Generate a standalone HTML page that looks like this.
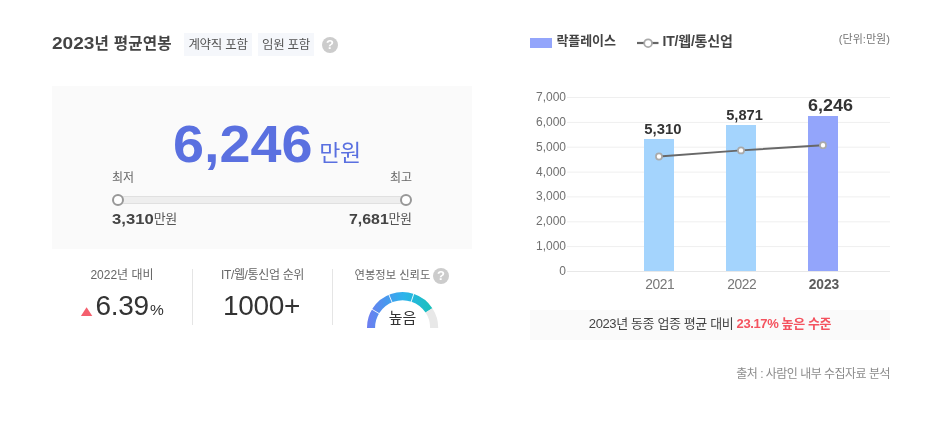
<!DOCTYPE html>
<html lang="ko">
<head>
<meta charset="utf-8">
<title>2023년 평균연봉</title>
<style>
*{margin:0;padding:0;box-sizing:border-box}
html,body{width:948px;height:427px;background:#fff;overflow:hidden}
body{position:relative;font-family:"Liberation Sans","Noto Sans CJK KR",sans-serif;color:#444;}
.abs{position:absolute;white-space:nowrap;line-height:1}
.title{left:52px;top:34.5px;font-size:15.6px;font-weight:bold;color:#444;letter-spacing:0.2px;line-height:17px}
.title span{display:inline-block;font-size:16px;letter-spacing:0;transform:scaleX(1.19);transform-origin:0 50%;margin-right:7px}
.badge{top:33px;height:23px;background:#f5f7fb;font-size:12.5px;color:#555;line-height:24.4px;text-align:center;letter-spacing:-0.3px}
.q{width:16px;height:16px;border-radius:50%;background:#ccc;color:#fff;font-size:13px;font-weight:bold;text-align:center;line-height:16.5px}
.box{left:52px;top:86px;width:420px;height:163px;background:#fafafa}
.big{left:173px;top:117.5px;font-size:52px;font-weight:bold;color:#5a70e0;letter-spacing:0;transform:scaleX(1.072);transform-origin:0 0}
.bigunit{left:319.2px;top:141.8px;font-size:23px;color:#5a70e0;letter-spacing:-0.3px}
.lbl{font-size:12px;color:#666}
.track{left:117px;top:196px;width:289px;height:8px;background:#eee;border-top:1px solid #e0e0e0;border-bottom:1px solid #e0e0e0}
.knob{width:12px;height:12px;border-radius:50%;border:2px solid #989898;background:#fff}
.val{font-size:15.5px;font-weight:bold;color:#444;letter-spacing:0}
.val b{display:inline-block}
.val span{font-size:13px;font-weight:normal;color:#555;letter-spacing:-0.5px;position:relative;top:-0.7px;margin-left:-0.5px}
.sub{font-size:12px;color:#666;text-align:center}
.div{width:1px;background:#e5e5e5;top:269px;height:56px}
.num{font-size:28px;letter-spacing:-0.3px;color:#333;text-align:center}
.banner{left:530px;top:310px;width:360px;height:30px;background:#fafafa;font-size:13px;color:#444;text-align:center;line-height:27.6px;letter-spacing:-0.38px}
.banner b{color:#f4535f}
.src{right:58px;top:368px;font-size:12px;color:#8c8c8c;letter-spacing:-0.52px}
</style>
</head>
<body>
<div class="abs title"><span>2023</span>년 평균연봉</div>
<div class="abs badge" style="left:184px;width:68px">계약직 포함</div>
<div class="abs badge" style="left:258px;width:56px">임원 포함</div>
<div class="abs q" style="left:322px;top:37px">?</div>

<div class="abs box"></div>
<div class="abs big">6,246</div>
<div class="abs bigunit">만원</div>
<div class="abs lbl" style="left:112px;top:172px">최저</div>
<div class="abs lbl" style="right:536px;top:172px">최고</div>
<div class="abs track"></div>
<div class="abs knob" style="left:112px;top:194px"></div>
<div class="abs knob" style="left:400px;top:194px"></div>
<div class="abs val" style="left:112px;top:210.7px"><b style="transform:scaleX(1.075);transform-origin:0 50%;margin-right:3.4px">3,310</b><span>만원</span></div>
<div class="abs val" style="right:536.5px;top:210.7px"><b style="transform:scaleX(1.025);transform-origin:100% 50%;margin-left:1px;margin-right:0.5px">7,681</b><span>만원</span></div>

<div class="abs sub" style="left:52px;width:140px;top:269px">2022년 대비</div>
<svg class="abs" style="left:80px;top:306px" width="14" height="11" viewBox="80 306 14 11"><polygon points="86.6,307.3 92.3,316 80.9,316" fill="#f4606e"/></svg>
<div class="abs num" style="left:95.4px;top:291.5px;font-size:28px;text-align:left">6.39<span style="font-size:15.5px;margin-left:1.2px">%</span></div>
<div class="abs div" style="left:192px"></div>
<div class="abs sub" style="left:193px;width:139px;top:269px;letter-spacing:-0.35px">IT/웹/통신업 순위</div>
<div class="abs num" style="left:192px;width:139px;top:292px">1000+</div>
<div class="abs div" style="left:332px"></div>
<div class="abs sub" style="left:354.5px;top:269.7px;text-align:left;font-size:11.3px">연봉정보 신뢰도</div>
<div class="abs q" style="left:433px;top:268px">?</div>
<svg class="abs" style="left:362px;top:288px" width="82" height="39.7" viewBox="362 288 82 39.7">
<defs><linearGradient id="g" gradientUnits="userSpaceOnUse" x1="367" y1="0" x2="433" y2="0"><stop offset="0" stop-color="#6e7df0"/><stop offset="0.28" stop-color="#4a97ee"/><stop offset="0.55" stop-color="#2db3ec"/><stop offset="0.8" stop-color="#20bbd0"/><stop offset="1" stop-color="#1ac1b8"/></linearGradient></defs>
<path d="M371.17 330.45 A31.55 31.55 0 0 1 428.97 310.38" fill="none" stroke="url(#g)" stroke-width="8.1"/>
<path d="M428.97 310.38 A31.55 31.55 0 0 1 434.03 330.45" fill="none" stroke="#e8e8e8" stroke-width="8.1"/>
<line x1="379.89" y1="314.05" x2="371.31" y2="308.90" stroke="#fff" stroke-width="0.9"/>
<line x1="392.46" y1="303.22" x2="388.63" y2="293.98" stroke="#fff" stroke-width="0.9"/>
<line x1="410.92" y1="302.54" x2="414.06" y2="293.05" stroke="#fff" stroke-width="0.9"/>
</svg>
<div class="abs" style="left:362px;width:81px;top:310px;font-size:15px;color:#333;text-align:center">높음</div>

<div class="abs" style="left:530px;top:38px;width:22px;height:10px;background:#93a5fb"></div>
<div class="abs" style="left:556.5px;top:33.8px;font-size:13px;font-weight:bold;color:#444;letter-spacing:-0.1px">락플레이스</div>
<div class="abs" style="left:662.5px;top:34px;font-size:14px;font-weight:bold;color:#444;letter-spacing:-0.2px">IT/웹/통신업</div>
<div class="abs" style="right:58px;top:34px;font-size:11px;color:#777;letter-spacing:0.05px">(단위:만원)</div>

<!--CHART-->
<svg class="abs" style="left:0;top:0" width="948" height="427" viewBox="0 0 948 427" font-family="'Liberation Sans','Noto Sans CJK KR',sans-serif">
<line x1="567" x2="890" y1="271.5" y2="271.5" stroke="#e8e8e8" stroke-width="1"/>
<text x="566" y="274.9" text-anchor="end" font-size="12" fill="#707070">0</text>
<line x1="567" x2="890" y1="246.6" y2="246.6" stroke="#efefef" stroke-width="1"/>
<text x="566" y="250.0" text-anchor="end" font-size="12" fill="#707070">1,000</text>
<line x1="567" x2="890" y1="221.8" y2="221.8" stroke="#efefef" stroke-width="1"/>
<text x="566" y="225.2" text-anchor="end" font-size="12" fill="#707070">2,000</text>
<line x1="567" x2="890" y1="196.9" y2="196.9" stroke="#efefef" stroke-width="1"/>
<text x="566" y="200.3" text-anchor="end" font-size="12" fill="#707070">3,000</text>
<line x1="567" x2="890" y1="172.1" y2="172.1" stroke="#efefef" stroke-width="1"/>
<text x="566" y="175.5" text-anchor="end" font-size="12" fill="#707070">4,000</text>
<line x1="567" x2="890" y1="147.2" y2="147.2" stroke="#efefef" stroke-width="1"/>
<text x="566" y="150.6" text-anchor="end" font-size="12" fill="#707070">5,000</text>
<line x1="567" x2="890" y1="122.4" y2="122.4" stroke="#efefef" stroke-width="1"/>
<text x="566" y="125.8" text-anchor="end" font-size="12" fill="#707070">6,000</text>
<line x1="567" x2="890" y1="97.5" y2="97.5" stroke="#efefef" stroke-width="1"/>
<text x="566" y="100.9" text-anchor="end" font-size="12" fill="#707070">7,000</text>
<rect x="644" y="139" width="30" height="132" fill="#a4d4fd"/>
<text x="644.3" y="133.8" font-size="14" font-weight="bold" fill="#333" textLength="37.2" lengthAdjust="spacingAndGlyphs">5,310</text>
<rect x="726" y="125" width="30" height="146" fill="#a4d4fd"/>
<text x="726.2" y="119.8" font-size="14" font-weight="bold" fill="#333" textLength="36.6" lengthAdjust="spacingAndGlyphs">5,871</text>
<rect x="808" y="116" width="30" height="155" fill="#93a5fb"/>
<text x="808" y="111" font-size="16" font-weight="bold" fill="#333" textLength="44.9" lengthAdjust="spacingAndGlyphs">6,246</text>
<polyline points="659,156.5 741,150.4 823,145.2" fill="none" stroke="#686868" stroke-width="1.9"/>
<circle cx="659" cy="156.5" r="3.05" fill="#fff" stroke="#aaa" stroke-width="1.7"/>
<circle cx="741" cy="150.4" r="3.05" fill="#fff" stroke="#aaa" stroke-width="1.7"/>
<circle cx="823" cy="145.2" r="3.05" fill="#fff" stroke="#aaa" stroke-width="1.7"/>
<text x="659.7" y="289.2" text-anchor="middle" font-size="13.8" font-weight="normal" fill="#777" letter-spacing="-0.45">2021</text>
<text x="741.7" y="289.2" text-anchor="middle" font-size="13.8" font-weight="normal" fill="#777" letter-spacing="-0.45">2022</text>
<text x="823.9" y="289.2" text-anchor="middle" font-size="13.8" font-weight="bold" fill="#5c5c5c" letter-spacing="-0.05">2023</text>
<line x1="637" x2="658.5" y1="43" y2="43" stroke="#666" stroke-width="2.2"/><circle cx="648.1" cy="43.2" r="3.9" fill="#fff" stroke="#aaa" stroke-width="1.8"/>
</svg>
<!--/CHART-->
<div class="abs banner">2023년 동종 업종 평균 대비 <b>23.17% 높은 수준</b></div>
<div class="abs src">출처 : 사람인 내부 수집자료 분석</div>
</body>
</html>
